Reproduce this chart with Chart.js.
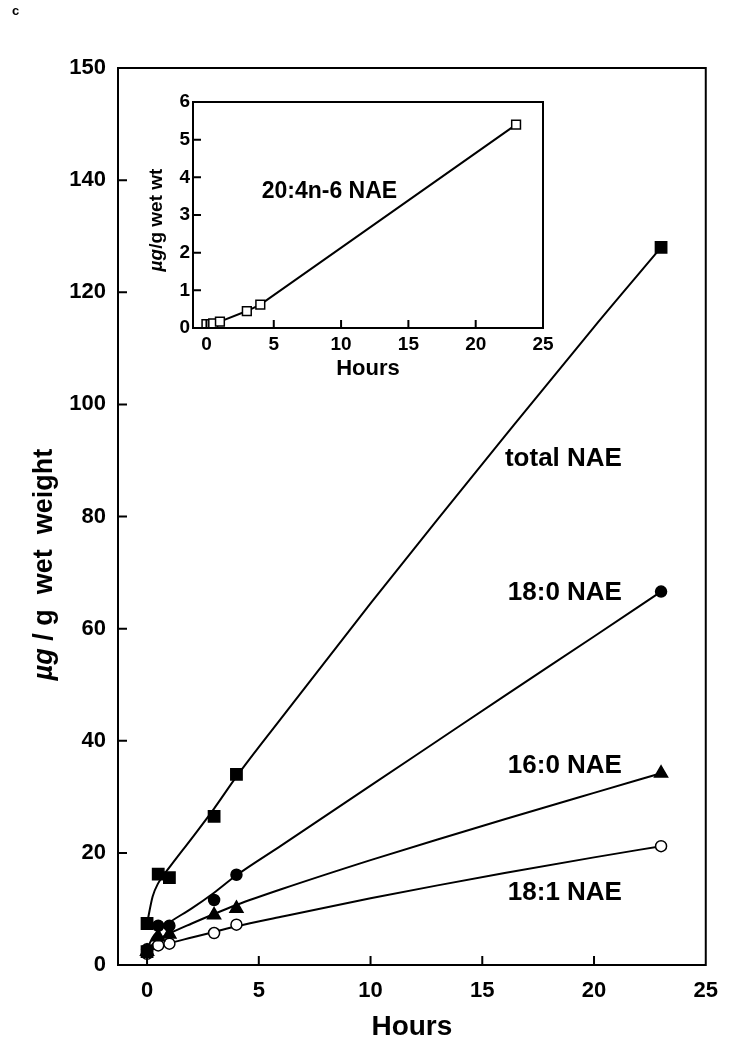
<!DOCTYPE html>
<html><head><meta charset="utf-8">
<script src="https://cdn.jsdelivr.net/npm/chart.js@4.4.1/dist/chart.umd.min.js"></script>
<style>
html,body{margin:0;padding:0;background:#fff;}
#wrap{position:relative;width:731px;height:1050px;overflow:hidden;}
#main{position:absolute;left:0;top:0;}
#inset{position:absolute;left:140px;top:85px;}
#tag{position:absolute;left:12px;top:3px;font:bold 13px "Liberation Sans",Arial,sans-serif;color:#000;}
</style></head><body>
<div id="wrap">
<canvas id="main" width="731" height="1050"></canvas>
<canvas id="inset" width="420" height="300"></canvas>
<div id="tag">c</div>
</div>
<script>
// ---- data ----
const hours = [0, 0.5, 1, 3, 4, 23];
const totalHours = [0, 0, 0.5, 1, 3, 4, 23];
const totalNAE = [2.4, 7.4, 16.2, 15.6, 26.5, 34.0, 128.0];
const nae180 = [2.8, 7.0, 7.0, 11.6, 16.1, 66.6];
const nae160 = [2.4, 5.0, 5.5, 8.9, 10.1, 34.2];
const nae181 = [2.0, 3.5, 3.8, 5.7, 7.2, 21.2];

// fitted curves as drawn in the figure
const fitHours = [0, 0.25, 0.5, 1, 2, 3, 4, 6, 10, 13, 16, 20, 23];
const fitTotal = [7.4, 12.2, 14.6, 17.4, 22.6, 27.9, 33.6, 44.0, 64.5, 79.5, 94.3, 113.8, 128.0];
const fit180 = [2.8, 4.9, 6.1, 7.6, 10.1, 12.9, 16.0, 21.3, 32.0, 40.0, 48.0, 58.6, 66.6];
const fit160 = [2.4, 3.7, 4.5, 5.6, 7.4, 9.1, 10.7, 13.5, 18.7, 22.4, 26.0, 30.7, 34.2];
const fit181 = [2.0, 2.8, 3.3, 3.9, 4.9, 5.9, 6.9, 8.6, 11.9, 14.2, 16.4, 19.2, 21.2];

// inset: 20:4n-6 NAE
const insetHours = [0, 0.5, 1, 3, 4, 23];
const nae204 = [0.1, 0.12, 0.17, 0.45, 0.62, 5.4];

// ticks and labels
const mainXTicks = [0, 5, 10, 15, 20, 25];
const mainYTicks = [0, 20, 40, 60, 80, 100, 120, 140, 160];
const mainYTickLabels = ['0', '20', '40', '60', '80', '100', '120', '140', '150'];
const insetXTicks = [0, 5, 10, 15, 20, 25];
const insetYTicks = [0, 1, 2, 3, 4, 5, 6];
const seriesNames = ['total NAE', '18:0 NAE', '16:0 NAE', '18:1 NAE'];
const insetName = '20:4n-6 NAE';
const xTitle = 'Hours';
const mainYTitle = ['µg', ' / g  wet  weight'];
const insetYTitle = ['µg', '/g wet wt'];

// ---- drawing ----
const FONT = '"Liberation Sans", Arial, Helvetica, sans-serif';
const pts = (xs, ys) => xs.map((x, i) => ({x: x, y: ys[i]}));

const framePlugin = {
  id: 'frame',
  afterDraw(chart, args, o) {
    const ctx = chart.ctx, a = chart.chartArea, sx = chart.scales.x, sy = chart.scales.y;
    ctx.save();
    ctx.strokeStyle = '#000';
    ctx.lineWidth = o.lineWidth;
    ctx.strokeRect(a.left, a.top, a.right - a.left, a.bottom - a.top);
    ctx.beginPath();
    sx.ticks.forEach(t => {
      const p = sx.getPixelForValue(t.value);
      if (p > a.left + 2 && p < a.right - 2) { ctx.moveTo(p, a.bottom); ctx.lineTo(p, a.bottom - o.tickLen); }
    });
    sy.ticks.forEach(t => {
      const p = sy.getPixelForValue(t.value);
      if (p > a.top + 2 && p < a.bottom - 2) { ctx.moveTo(a.left, p); ctx.lineTo(a.left + o.tickLen, p); }
    });
    ctx.stroke();
    ctx.fillStyle = '#000';
    ctx.textBaseline = 'middle';
    (o.labels || []).forEach(l => {
      ctx.font = 'bold ' + l.size + 'px ' + FONT;
      ctx.textAlign = l.align;
      ctx.fillText(l.text, sx.getPixelForValue(l.x), sy.getPixelForValue(l.y));
    });
    if (o.yTitle) {
      const t = o.yTitle;
      ctx.translate(a.left - t.dx, (a.top + a.bottom) / 2 + t.dy);
      ctx.rotate(-Math.PI / 2);
      const f1 = 'italic bold ' + t.size + 'px ' + FONT;
      const f2 = 'bold ' + t.size + 'px ' + FONT;
      ctx.font = f1; const w1 = ctx.measureText(t.parts[0]).width;
      ctx.font = f2; const w2 = ctx.measureText(t.parts[1]).width;
      const x0 = -(w1 + w2) / 2;
      ctx.textAlign = 'left';
      ctx.font = f1; ctx.fillText(t.parts[0], x0, 0);
      ctx.font = f2; ctx.fillText(t.parts[1], x0 + w1, 0);
    }
    ctx.restore();
  }
};

const fitDs = (xs, ys) => ({
  data: pts(xs, ys), showLine: true, pointRadius: 0, borderColor: '#000',
  borderWidth: 2, cubicInterpolationMode: 'monotone', fill: false
});
const ptDs = (xs, ys, style, r, fill) => ({
  data: pts(xs, ys), showLine: false, pointStyle: style, pointRadius: r,
  pointBackgroundColor: fill, pointBorderColor: '#000', pointBorderWidth: 1.5
});

new Chart(document.getElementById('main'), {
  type: 'scatter',
  data: {
    datasets: [
      ptDs(totalHours, totalNAE, 'rect', 8, '#000'),
      ptDs(hours, nae180, 'circle', 5.5, '#000'),
      ptDs(hours, nae160, 'triangle', 7.5, '#000'),
      ptDs(hours, nae181, 'circle', 5.5, '#fff'),
      fitDs(fitHours, fitTotal),
      fitDs(fitHours, fit180),
      fitDs(fitHours, fit160),
      fitDs(fitHours, fit181)
    ]
  },
  plugins: [framePlugin],
  options: {
    responsive: false, animation: false, events: [],
    layout: {padding: {left: 0, right: 25, top: 68, bottom: 6}},
    plugins: {
      legend: {display: false}, tooltip: {enabled: false},
      frame: {
        lineWidth: 2, tickLen: 9,
        labels: [
          {text: seriesNames[0], x: 21.25, y: 90.3, size: 26, align: 'right'},
          {text: seriesNames[1], x: 21.25, y: 66.3, size: 26, align: 'right'},
          {text: seriesNames[2], x: 21.25, y: 35.5, size: 26, align: 'right'},
          {text: seriesNames[3], x: 21.25, y: 12.9, size: 26, align: 'right'}
        ],
        yTitle: {parts: mainYTitle, size: 27, dx: 73, dy: 48}
      }
    },
    scales: {
      x: {
        type: 'linear', min: -1.3, max: 25,
        afterBuildTicks: s => { s.ticks = mainXTicks.map(v => ({value: v})); },
        afterFit: s => { s.height = 79; },
        grid: {display: false, drawTicks: false}, border: {display: false},
        ticks: {color: '#000', padding: 13, font: {family: FONT, size: 22, weight: 'bold'}},
        title: {display: true, text: xTitle, color: '#000', padding: {top: 0, bottom: 0},
                font: {family: FONT, size: 28, weight: 'bold'}}
      },
      y: {
        type: 'linear', min: 0, max: 160,
        afterBuildTicks: s => { s.ticks = mainYTicks.map(v => ({value: v})); },
        afterFit: s => { s.width = 118; },
        grid: {display: false, drawTicks: false}, border: {display: false},
        ticks: {color: '#000', padding: 12, font: {family: FONT, size: 22, weight: 'bold'},
                callback: (v, i) => mainYTickLabels[i]}
      }
    }
  }
});

new Chart(document.getElementById('inset'), {
  type: 'scatter',
  data: {
    datasets: [
      {data: pts(insetHours, nae204), showLine: true, tension: 0, borderColor: '#000', borderWidth: 2,
       pointStyle: 'rect', pointRadius: 6.2, pointBackgroundColor: '#fff',
       pointBorderColor: '#000', pointBorderWidth: 1.5}
    ]
  },
  plugins: [framePlugin],
  options: {
    responsive: false, animation: false, events: [],
    layout: {padding: {left: 0, right: 17, top: 17, bottom: 0}},
    plugins: {
      legend: {display: false}, tooltip: {enabled: false},
      frame: {
        lineWidth: 2, tickLen: 8,
        labels: [{text: insetName, x: 4.1, y: 3.61, size: 23, align: 'left'}],
        yTitle: {parts: insetYTitle, size: 19, dx: 36, dy: 5}
      }
    },
    scales: {
      x: {
        type: 'linear', min: -1, max: 25,
        afterBuildTicks: s => { s.ticks = insetXTicks.map(v => ({value: v})); },
        afterFit: s => { s.height = 57; },
        grid: {display: false, drawTicks: false}, border: {display: false},
        ticks: {color: '#000', padding: 5, font: {family: FONT, size: 19, weight: 'bold'}},
        title: {display: true, text: xTitle, color: '#000', padding: {top: 0, bottom: 3},
                font: {family: FONT, size: 22, weight: 'bold'}}
      },
      y: {
        type: 'linear', min: 0, max: 6,
        afterBuildTicks: s => { s.ticks = insetYTicks.map(v => ({value: v})); },
        afterFit: s => { s.width = 53; },
        grid: {display: false, drawTicks: false}, border: {display: false},
        ticks: {color: '#000', padding: 3, font: {family: FONT, size: 19, weight: 'bold'}}
      }
    }
  }
});
</script>
</body></html>
